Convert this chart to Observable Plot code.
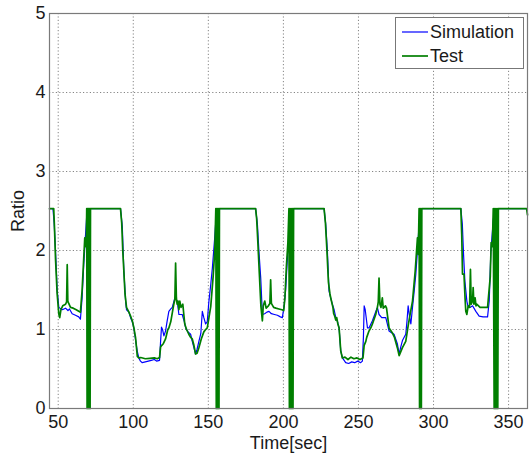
<!DOCTYPE html>
<html>
<head>
<meta charset="utf-8">
<script src="https://cdn.jsdelivr.net/npm/d3@7"></script>
<script src="https://cdn.jsdelivr.net/npm/@observablehq/plot@0.6"></script>
<style>
  body { margin: 0; background: #fff; }
  #chart { position: relative; width: 529px; height: 456px; font-family: "Liberation Sans", Arial, sans-serif; }
  #legend { position: absolute; left: 395px; top: 17px; }
</style>
</head>
<body>
<div id="chart"></div>
<script>
// Simulation run: time (s) and ratio
const simTime = [
  44.2, 46.5, 47.3, 48.2, 49.3, 50.4, 52.7, 54.9, 56.5, 57.5, 59.3, 61.5, 63.7, 64.8, 65.9, 67.0, 68.2, 69.2, 69.8,
  91.5, 92.7, 93.7, 94.9, 95.5, 97.1, 98.2, 99.3, 100.4, 101.0, 102.6, 103.7, 104.8, 106.0, 108.0, 110.0, 112.0, 114.0, 115.5, 117.5,
  118.2, 118.8, 119.5, 120.4, 121.5, 122.5, 123.7, 125.0, 126.0, 127.7, 129.3, 130.4, 132.6, 134.0, 134.9, 136.5, 138.2, 139.3,
  140.4, 141.5, 142.5, 143.7, 145.0, 146.0, 147.0, 148.2, 149.3, 150.4, 151.5, 152.7, 154.4, 155.5,
  181.5, 182.7, 183.7, 184.9, 186.0, 187.5, 189.0, 190.4, 192.0, 194.0, 196.0, 198.0, 199.3, 200.5, 201.5, 202.5, 203.7, 204.8,
  227.1, 228.2, 229.3, 230.4, 231.5, 232.6, 233.8, 234.9, 236.0, 237.1, 238.2, 239.3, 241.5, 243.5, 245.5, 247.5, 249.5, 251.5, 252.6,
  253.3, 253.8, 254.5, 256.0, 257.0, 259.3, 261.0, 262.6, 263.7, 265.5, 268.2, 270.4, 272.0, 273.7, 275.9, 277.1, 278.2, 279.3,
  281.5, 282.3, 283.1, 284.1, 284.9, 286.0, 287.2, 288.2, 289.3, 290.4, 291.5,
  318.2, 319.2, 320.0, 320.9, 322.2, 323.1, 324.5, 326.0, 328.2, 330.4, 333.0, 336.0, 337.1, 338.2, 339.9, 340.8, 362.6
];
const simRatio = [
  2.53, 2.53, 2.35, 2.0, 1.5, 1.28, 1.25, 1.27, 1.24, 1.26, 1.20, 1.18, 1.16, 1.13, 1.40, 1.82, 2.20, 2.50, 2.53,
  2.53, 2.30, 1.75, 1.36, 1.25, 1.22, 1.15, 1.10, 1.02, 0.94, 0.73, 0.64, 0.60, 0.58, 0.59, 0.60, 0.61, 0.62, 0.60, 0.61,
  0.85, 1.03, 1.00, 0.92, 0.98, 1.10, 1.23, 1.26, 1.28, 1.40, 1.36, 1.19, 1.19, 1.10, 1.02, 0.97, 0.94, 0.85,
  0.77, 0.69, 0.75, 0.85, 0.95, 1.23, 1.15, 1.07, 1.10, 1.36, 1.55, 1.78, 2.20, 2.53,
  2.53, 2.33, 1.99, 1.65, 1.19, 1.20, 1.22, 1.23, 1.20, 1.19, 1.18, 1.16, 1.15, 1.30, 1.50, 1.85, 2.20, 2.53,
  2.53, 2.33, 1.99, 1.49, 1.40, 1.32, 1.25, 1.15, 1.10, 1.02, 0.73, 0.64, 0.58, 0.57, 0.59, 0.58, 0.60, 0.58, 0.60,
  0.90, 1.30, 1.25, 1.02, 1.02, 1.11, 1.20, 1.28, 1.19, 1.15, 1.15, 0.98, 0.96, 0.94, 0.82, 0.69, 0.78, 0.86,
  0.94, 1.10, 1.30, 1.15, 1.07, 1.28, 1.50, 1.70, 2.00, 2.33, 2.53,
  2.53, 2.33, 1.95, 1.61, 1.36, 1.28, 1.28, 1.30, 1.23, 1.17, 1.16, 1.16, 1.36, 1.99, 2.40, 2.53, 2.53
];

// Test measurement: time (s) and ratio
const testTime = [
  44.2, 47.0, 47.5, 48.2, 49.3, 50.4, 51.0, 51.8, 53.0, 54.9, 55.6, 56.0, 56.4, 57.0, 58.2, 60.0, 62.0, 63.7, 64.8,
  65.9, 67.0, 67.7, 68.4, 68.8, 69.0, 69.25, 69.5, 69.75, 70.0, 70.25, 70.5, 70.75, 71.0, 71.25, 71.5,
  91.5, 92.3, 93.0, 93.7, 94.5, 95.5, 97.1, 98.2, 99.5, 100.4, 101.5, 102.7, 103.7, 105.0, 108.0, 111.0, 114.0, 116.0, 117.5,
  118.2, 119.0, 120.0, 121.5, 123.0, 123.7, 125.0, 127.0, 127.7, 128.2, 128.7, 129.2, 129.8, 130.4, 131.0, 131.8, 133.0,
  134.3, 135.5, 137.0, 138.2, 139.3, 140.4, 141.5, 142.5, 143.7, 145.3, 147.0, 148.2, 149.3, 150.4, 151.6, 153.2, 154.3,
  155.0, 155.3, 155.6, 155.9, 156.2, 156.5, 156.8, 157.1, 157.4, 157.7,
  181.5, 182.2, 183.0, 184.0, 185.0, 186.0, 186.6, 187.6, 188.5, 190.0, 191.0, 191.5, 192.0, 193.5, 195.0, 197.0, 199.0, 200.2,
  201.0, 202.0, 203.0, 203.7, 204.0, 204.4, 204.8, 205.2, 205.6, 206.0, 206.4, 206.8,
  227.1, 228.0, 229.0, 230.0, 231.0, 232.0, 233.0, 233.5, 234.0, 234.9, 235.5, 236.3, 237.1, 238.2, 239.3, 241.0, 243.0, 245.0,
  247.0, 249.0, 251.0, 253.0, 253.8, 254.9, 255.5, 257.0, 258.2, 259.3, 261.5, 262.6, 263.2, 263.7, 264.3, 265.0, 265.9, 266.5,
  268.0, 268.7, 270.4, 272.5, 274.0, 275.9, 277.1, 278.2, 279.3, 281.5, 283.3, 284.5, 286.0, 287.8, 289.3, 289.8, 290.4,
  290.7, 291.0, 291.3, 291.6, 291.9, 292.2,
  318.2, 318.8, 319.3, 320.3, 321.0, 321.5, 322.2, 323.1, 324.0, 324.6, 325.1, 326.0, 326.4, 326.9, 327.7, 328.3, 328.8,
  331.0, 334.0, 336.0, 337.8, 338.4, 339.2, 339.8, 340.4, 340.8, 341.2, 341.6, 342.0, 342.4, 342.8, 343.2,
  362.0, 362.6
];
const testRatio = [
  2.53, 2.53, 2.30, 1.90, 1.45, 1.20, 1.15, 1.25, 1.30, 1.32, 1.35, 1.82, 1.36, 1.33, 1.28, 1.27, 1.25, 1.23, 1.22,
  1.49, 1.90, 2.16, 2.05, 2.20, 2.53, 0, 2.53, 0, 2.53, 0, 2.53, 0, 2.53, 0, 2.53,
  2.53, 2.35, 2.0, 1.75, 1.45, 1.28, 1.22, 1.17, 1.10, 1.02, 0.90, 0.66, 0.64, 0.645, 0.63, 0.635, 0.64, 0.63, 0.645,
  0.78, 0.80, 0.82, 0.88, 1.00, 1.02, 1.10, 1.32, 1.38, 1.84, 1.40, 1.32, 1.36, 1.25, 1.36, 1.28, 1.32,
  1.07, 1.00, 0.94, 0.90, 0.88, 0.80, 0.69, 0.70, 0.77, 0.88, 0.97, 1.00, 1.02, 1.15, 1.29, 1.67, 2.00,
  2.53, 0, 2.53, 0, 2.53, 0, 2.53, 0, 2.53, 2.53,
  2.53, 2.40, 2.10, 1.70, 1.30, 1.11, 1.30, 1.36, 1.27, 1.30, 1.33, 1.63, 1.33, 1.28, 1.27, 1.26, 1.25, 1.24,
  1.40, 1.80, 2.10, 2.53, 0, 2.53, 0, 2.53, 0, 2.53, 0, 2.53,
  2.53, 2.35, 2.0, 1.60, 1.45, 1.36, 1.28, 1.20, 1.18, 1.12, 1.15, 1.07, 1.02, 0.73, 0.64, 0.65, 0.62, 0.65,
  0.63, 0.64, 0.62, 0.64, 0.80, 0.85, 0.90, 0.98, 1.02, 1.07, 1.19, 1.28, 1.35, 1.65, 1.32, 1.28, 1.40, 1.27,
  1.30, 1.27, 1.02, 0.96, 0.90, 0.77, 0.67, 0.72, 0.77, 0.85, 1.07, 1.20, 1.36, 1.74, 2.16, 1.95, 2.53,
  0, 2.53, 0, 2.53, 0, 2.53,
  2.53, 2.20, 1.70, 1.70, 1.40, 1.23, 1.19, 1.30, 1.28, 1.76, 1.32, 1.36, 1.53, 1.32, 1.40, 1.30, 1.32,
  1.28, 1.28, 1.28, 1.67, 2.10, 2.05, 2.53, 0, 2.53, 0, 2.53, 0, 2.53, 0, 2.53,
  2.53, 2.45
];

const xTicks = [50, 100, 150, 200, 250, 300, 350];
const yTicks = [0, 1, 2, 3, 4, 5];
const seriesNames = ["Simulation", "Test"];
const seriesColors = ["#0000ff", "#007f00"];

const sim = simTime.map((t, i) => ({time: t, ratio: simRatio[i]}));
const test = testTime.map((t, i) => ({time: t, ratio: testRatio[i]}));

const chart = Plot.plot({
  width: 529,
  height: 456,
  marginLeft: 49,
  marginRight: 2,
  marginTop: 13,
  marginBottom: 48,
  style: {fontFamily: "'Liberation Sans', Arial, sans-serif", fontSize: "18px", color: "#1a1a1a", background: "#fff"},
  x: {domain: [44.2, 362.6], ticks: xTicks},
  y: {domain: [0, 5], ticks: yTicks},
  marks: [
    Plot.gridX(xTicks, {stroke: "#666", strokeOpacity: 0.8, strokeDasharray: "1.2,2.2"}),
    Plot.gridY(yTicks, {stroke: "#666", strokeOpacity: 0.8, strokeDasharray: "1.2,2.2"}),
    Plot.line(sim, {x: "time", y: "ratio", stroke: seriesColors[0], strokeWidth: 1.2}),
    Plot.line(test, {x: "time", y: "ratio", stroke: seriesColors[1], strokeWidth: 1.7}),
    Plot.frame({stroke: "#7a7a7a", strokeWidth: 1.2}),
    Plot.axisX(xTicks, {tickSize: 0, tickPadding: 7, tickFormat: d3.format("d"), label: "Time[sec]", labelAnchor: "center", labelArrow: "none", labelOffset: 40}),
    Plot.axisY(yTicks, {tickSize: 0, tickPadding: 4, tickFormat: d3.format("d"), label: "Ratio", labelAnchor: "center", labelArrow: "none", labelOffset: 38})
  ]
});

const root = document.getElementById("chart");
root.appendChild(chart);

// Legend box inside the top-right corner of the axes
const legend = d3.select(root).append("svg")
  .attr("id", "legend")
  .attr("width", 130)
  .attr("height", 53);
legend.append("rect")
  .attr("x", 0.5).attr("y", 0.5).attr("width", 128).attr("height", 51)
  .attr("fill", "#fff").attr("stroke", "#777").attr("stroke-width", 1);
seriesNames.forEach((name, i) => {
  const cy = 15 + i * 24;
  legend.append("line")
    .attr("x1", 7).attr("x2", 33).attr("y1", cy).attr("y2", cy)
    .attr("stroke", seriesColors[i]).attr("stroke-width", i === 0 ? 1.2 : 1.7);
  legend.append("text")
    .attr("x", 35).attr("y", cy).attr("dy", "0.35em")
    .attr("font-family", "'Liberation Sans', Arial, sans-serif")
    .attr("font-size", 18).attr("fill", "#1a1a1a")
    .text(name);
});
</script>
</body>
</html>
